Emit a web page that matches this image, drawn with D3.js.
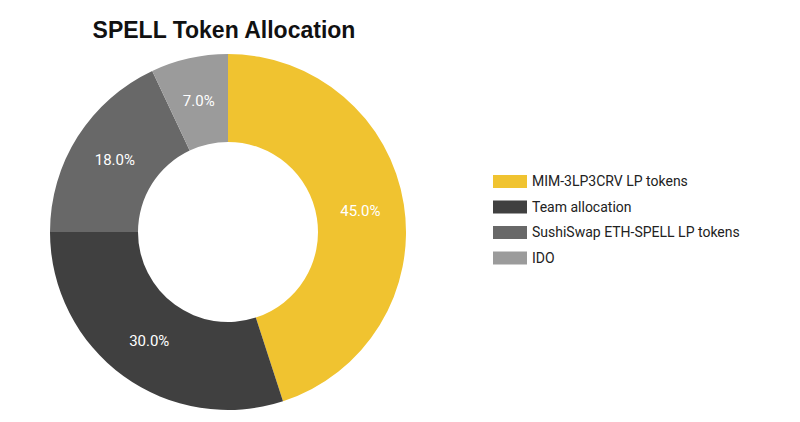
<!DOCTYPE html>
<html><head><meta charset="utf-8">
<script src="https://cdn.jsdelivr.net/npm/d3@7"></script>
<style>body{margin:0;background:#fff}</style></head>
<body><svg id="c" width="800" height="422"></svg>
<script>
const categories = ["MIM-3LP3CRV LP tokens","Team allocation","SushiSwap ETH-SPELL LP tokens","IDO"];
const values = [45.0, 30.0, 18.0, 7.0];
const colors = ["#F0C330","#404040","#686868","#9B9B9B"];

const svg = d3.select("#c");
svg.append("text").attr("x",224).attr("y",38).attr("text-anchor","middle")
  .attr("font-family","Liberation Sans, Arial, sans-serif").attr("font-weight","bold")
  .attr("font-size",23).attr("fill","#111").text("SPELL Token Allocation");

const cx=228, cy=232, R=178, r=90;
const pie = d3.pie().sort(null).value(d=>d)(values);
const arc = d3.arc().innerRadius(r).outerRadius(R);
const lab = d3.arc().innerRadius(134).outerRadius(134);
const g = svg.append("g").attr("transform",`translate(${cx},${cy})`);
g.selectAll("path").data(pie).join("path").attr("d",arc).attr("fill",(d,i)=>colors[i]);
g.selectAll("text").data(pie).join("text")
  .attr("transform",d=>`translate(${lab.centroid(d)})`)
  .attr("text-anchor","middle").attr("dy","0.35em")
  .attr("font-family","Roboto, sans-serif").attr("font-size",15).attr("fill","#fff")
  .text(d=>d.data.toFixed(1)+"%");

const lg = svg.append("g").attr("transform","translate(493,175)");
const it = lg.selectAll("g").data(categories).join("g").attr("transform",(d,i)=>`translate(0,${i*25.5})`);
it.append("rect").attr("width",34).attr("height",13).attr("fill",(d,i)=>colors[i]);
it.append("text").attr("x",39).attr("y",11).attr("font-family","Roboto, sans-serif")
  .attr("font-size",14).attr("fill","#222").text(d=>d);
</script></body></html>
